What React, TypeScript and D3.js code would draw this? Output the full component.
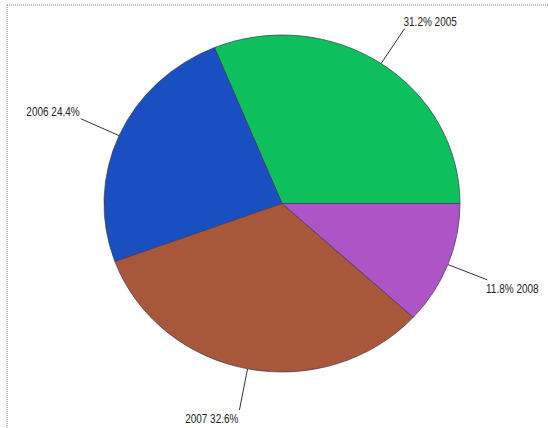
import React from "react";
import * as d3 from "d3";

const years = ["2005", "2006", "2007", "2008"];
const shares = [31.2, 24.4, 32.6, 11.8];
const sliceColors = ["#0ec05c", "#1a4fc2", "#a9573a", "#ad55c6"];

const W = 548;
const H = 428;
const cx = 282;
const cy = 203.5;
const rx = 178;
const ry = 168.5;
const leader = 42;

export default function App() {
  const data = years.map((y, i) => ({ year: y, value: shares[i], color: sliceColors[i] }));
  const pie = d3
    .pie<any>()
    .sort(null)
    .value((d: any) => d.value)
    .startAngle(Math.PI / 2)
    .endAngle(Math.PI / 2 - 2 * Math.PI);
  const arcs = pie(data);
  const arcGen = d3.arc<any>().innerRadius(0).outerRadius(rx);
  const sy = ry / rx;

  return (
    <svg width={W} height={H} style={{ position: "absolute", left: 0, top: 0, background: "#fff" }}>
      <line x1={7} y1={5} x2={W} y2={5} stroke="#777" strokeWidth={1} strokeDasharray="1,1" />
      <line x1={7} y1={5} x2={7} y2={H} stroke="#777" strokeWidth={1} strokeDasharray="1,1" />
      <g transform={`translate(${cx},${cy}) scale(1,${sy})`}>
        {arcs.map((a, i) => (
          <path
            key={i}
            d={arcGen(a) as string}
            fill={a.data.color}
            stroke="#3a3a5a"
            strokeWidth={0.7}
            vectorEffect="non-scaling-stroke"
          />
        ))}
      </g>
      {arcs.map((a, i) => {
        const mid = (a.startAngle + a.endAngle) / 2;
        const px = cx + rx * Math.sin(mid);
        const py = cy - ry * Math.cos(mid);
        const dx = Math.sin(mid);
        const dy = -Math.cos(mid);
        const ex = px + leader * dx;
        const ey = py + leader * dy;
        const right = dx > 0;
        const top = dy < 0;
        const label = right
          ? `${a.data.value.toFixed(1)}% ${a.data.year}`
          : `${a.data.year} ${a.data.value.toFixed(1)}%`;
        const tx = ex - 1;
        const ty = top ? ey - 3 : ey + 13;
        return (
          <g key={i}>
            <line x1={px} y1={py} x2={ex} y2={ey} stroke="#333" strokeWidth={1} />
            <text
              transform={`translate(${tx},${ty}) scale(0.8,1)`}
              textAnchor={right ? "start" : "end"}
              fontFamily="'Liberation Sans', Arial, sans-serif"
              fontSize={12.5}
              fill="#222"
            >
              {label}
            </text>
          </g>
        );
      })}
    </svg>
  );
}
